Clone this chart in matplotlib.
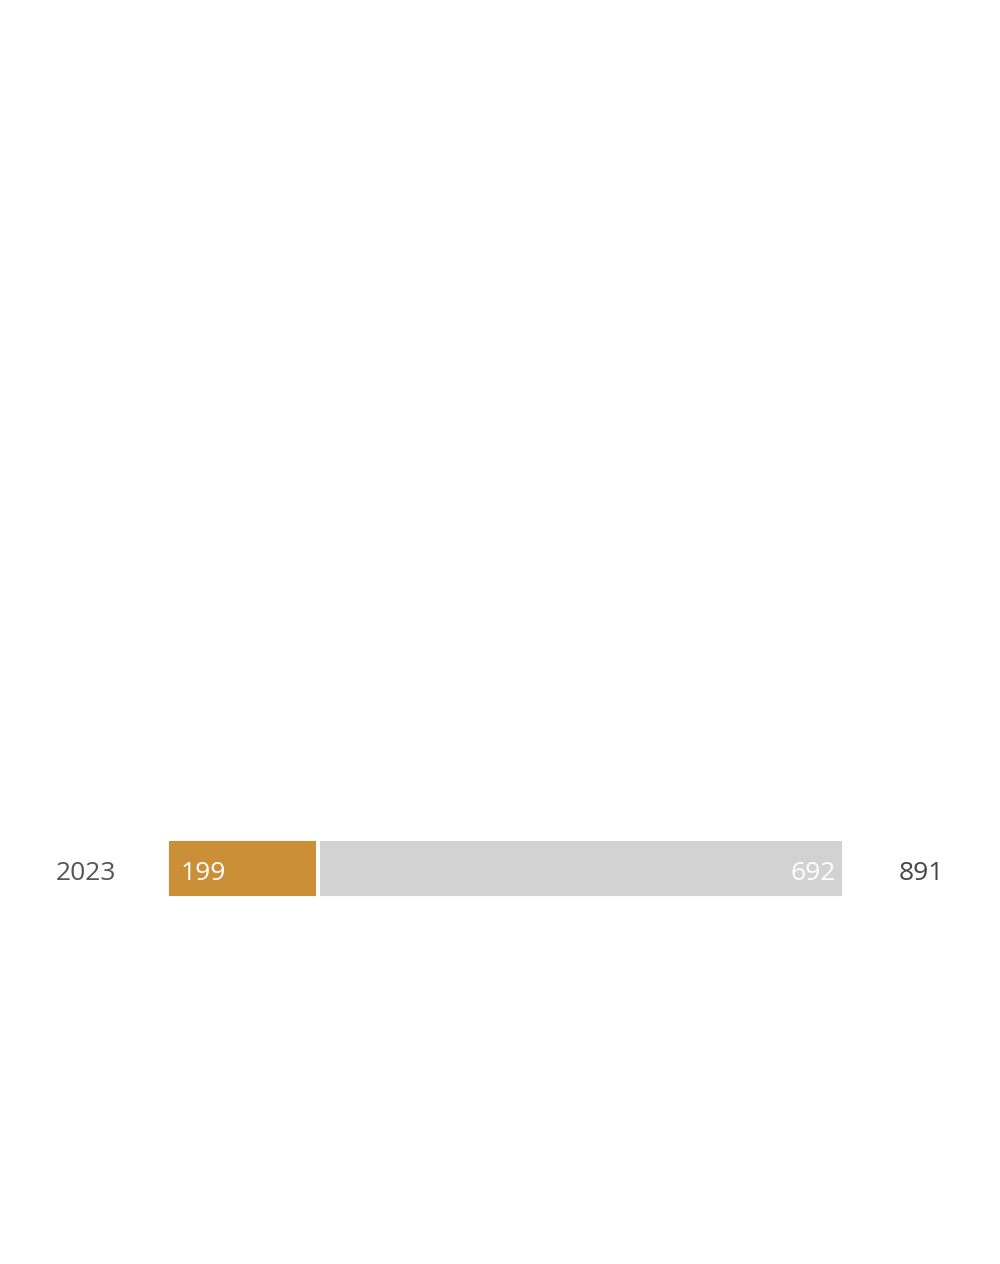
import matplotlib
matplotlib.use('Agg')
import matplotlib.pyplot as plt

years = ['2023']
part_a = [199]
part_b = [692]
totals = [a + b for a, b in zip(part_a, part_b)]

orange = '#CB8F37'
grey = '#D2D2D2'

plt.rcParams['font.family'] = ['Open Sans', 'DejaVu Sans']

fig = plt.figure(figsize=(10, 12.64), dpi=100)
ax = fig.add_axes([0.1665, 340.5 / 1264, 0.677, 110 / 1264])

y = list(range(len(years)))
ax.barh(y, part_a, height=0.54, color=orange, edgecolor='white', linewidth=2.8)
ax.barh(y, part_b, left=part_a, height=0.54, color=grey, edgecolor='white', linewidth=2.8)

dy = -0.045  # nudge labels down a little
for i in y:
    ax.text(19, i + dy, str(part_a[i]), color='white', fontsize=19, va='center', ha='left')
    ax.text(part_a[i] + part_b[i] - 10, i + dy, str(part_b[i]), color='white', fontsize=19,
            va='center', ha='right')
    ax.text(totals[i] + 72, i + dy, str(totals[i]), color='#444444', fontsize=19,
            va='center', ha='left')
    ax.text(-66, i + dy, years[i], color='#555555', fontsize=19, va='center', ha='right')

ax.set_xlim(0, totals[0])
ax.set_ylim(-0.5, 0.5)
ax.axis('off')

fig.savefig('out.png', dpi=100, facecolor='white')
